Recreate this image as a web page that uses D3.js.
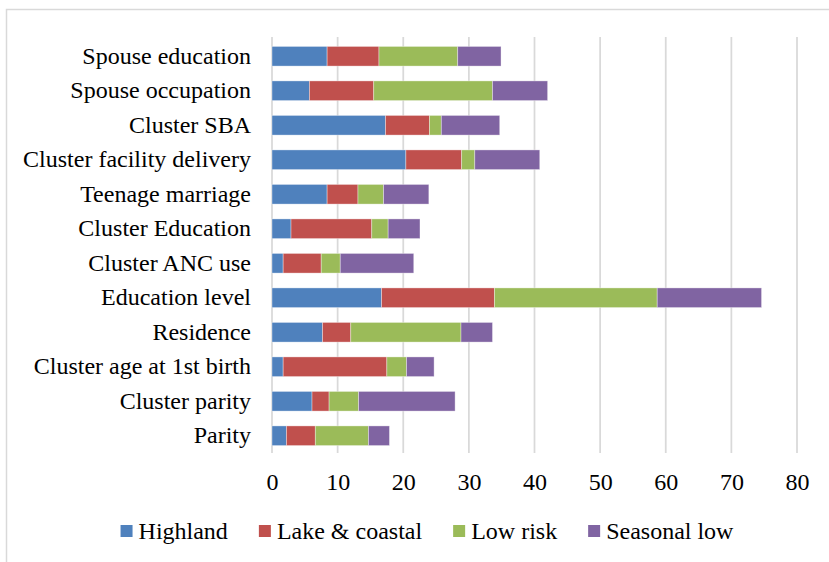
<!DOCTYPE html>
<html>
<head>
<meta charset="utf-8">
<script src="https://cdn.jsdelivr.net/npm/d3@7"></script>
<style>
  html, body { margin: 0; padding: 0; background: #fff; }
  svg { display: block; }
</style>
</head>
<body>
<svg id="chart" width="829" height="562"></svg>
<script>
// Factors, listed top to bottom
const categories = [
  "Spouse education", "Spouse occupation", "Cluster SBA", "Cluster facility delivery",
  "Teenage marriage", "Cluster Education", "Cluster ANC use", "Education level",
  "Residence", "Cluster age at 1st birth", "Cluster parity", "Parity"
];

const seriesNames = ["Highland", "Lake & coastal", "Low risk", "Seasonal low"];

const highland     = [8.4, 5.7, 17.3, 20.4, 8.4, 2.9, 1.7, 16.7, 7.7, 1.7, 6.1, 2.2];
const lakeCoastal  = [7.9, 9.8, 6.7, 8.5, 4.7, 12.3, 5.8, 17.2, 4.3, 15.8, 2.6, 4.4];
const lowRisk      = [12.0, 18.1, 1.8, 2.0, 3.9, 2.5, 2.9, 24.8, 16.8, 3.0, 4.5, 8.1];
const seasonalLow  = [6.6, 8.4, 8.9, 9.9, 6.9, 4.85, 11.2, 15.9, 4.8, 4.2, 14.7, 3.2];

const xTicks = [0, 10, 20, 30, 40, 50, 60, 70, 80];

const colors = ["#4F81BD", "#C0504D", "#9BBB59", "#8064A2"];

const FONT = "Liberation Serif";
const FONT_SIZE = 24;

// Build rows for the stack layout
const seriesValues = [highland, lakeCoastal, lowRisk, seasonalLow];
const rows = categories.map((c, i) => {
  const r = { category: c };
  seriesNames.forEach((s, k) => { r[s] = seriesValues[k][i]; });
  return r;
});
const stacked = d3.stack().keys(seriesNames)(rows);

const svg = d3.select("#chart");

// Chart frame
svg.append("rect")
  .attr("x", 6.5).attr("y", 9.5)
  .attr("width", 840).attr("height", 570)
  .attr("fill", "#fff")
  .attr("stroke", "#D9D9D9").attr("stroke-width", 1.5);

const x = d3.scaleLinear().domain([0, 80]).range([272, 797]);
const y = d3.scaleBand().domain(categories)
  .range([39, 453]).paddingInner(0.43).paddingOuter(0.215);

// Vertical gridlines
svg.append("g")
  .selectAll("line")
  .data(xTicks)
  .join("line")
  .attr("x1", d => x(d)).attr("x2", d => x(d))
  .attr("y1", 37).attr("y2", 453)
  .attr("stroke", "#D9D9D9").attr("stroke-width", 1.75);

// Stacked bars
svg.append("g")
  .selectAll("g")
  .data(stacked)
  .join("g")
  .attr("fill", (d, i) => colors[i])
  .selectAll("rect")
  .data(d => d)
  .join("rect")
  .attr("x", d => x(d[0]))
  .attr("y", d => y(d.data.category))
  .attr("width", d => x(d[1]) - x(d[0]))
  .attr("height", y.bandwidth())
  .attr("stroke", "rgba(255,255,255,0.45)")
  .attr("stroke-width", 0.8);

// Category labels
const yAxis = d3.axisLeft(y).tickSize(0).tickPadding(0);
const yg = svg.append("g").attr("transform", "translate(251,0)").call(yAxis)
  .attr("font-family", FONT).attr("font-size", FONT_SIZE);
yg.select(".domain").remove();
yg.selectAll("text").attr("dy", "0.31em").attr("fill", "#000");

// Value axis labels
const xAxis = d3.axisBottom(x).tickValues(xTicks).tickSize(0).tickPadding(0).tickFormat(d3.format("d"));
const xg = svg.append("g").attr("transform", "translate(0,490)").call(xAxis)
  .attr("font-family", FONT).attr("font-size", FONT_SIZE);
xg.select(".domain").remove();
xg.selectAll("text").attr("dy", 0).attr("y", 0).attr("fill", "#000");

// Legend
const legend = svg.append("g").attr("font-family", FONT).attr("font-size", FONT_SIZE);
const items = legend.selectAll("g")
  .data(seriesNames)
  .join("g");
items.append("rect")
  .attr("width", 12).attr("height", 12)
  .attr("y", -14)
  .attr("fill", (d, i) => colors[i]);
items.append("text")
  .attr("x", 18)
  .attr("fill", "#000")
  .text(d => d);

let cursor = 0;
const gap = 31;
items.each(function () {
  const g = d3.select(this);
  const w = 18 + g.select("text").node().getComputedTextLength();
  g.attr("transform", `translate(${cursor},0)`);
  cursor += w + gap;
});
const totalWidth = cursor - gap;
legend.attr("transform", `translate(${427 - totalWidth / 2},539)`);
</script>
</body>
</html>
